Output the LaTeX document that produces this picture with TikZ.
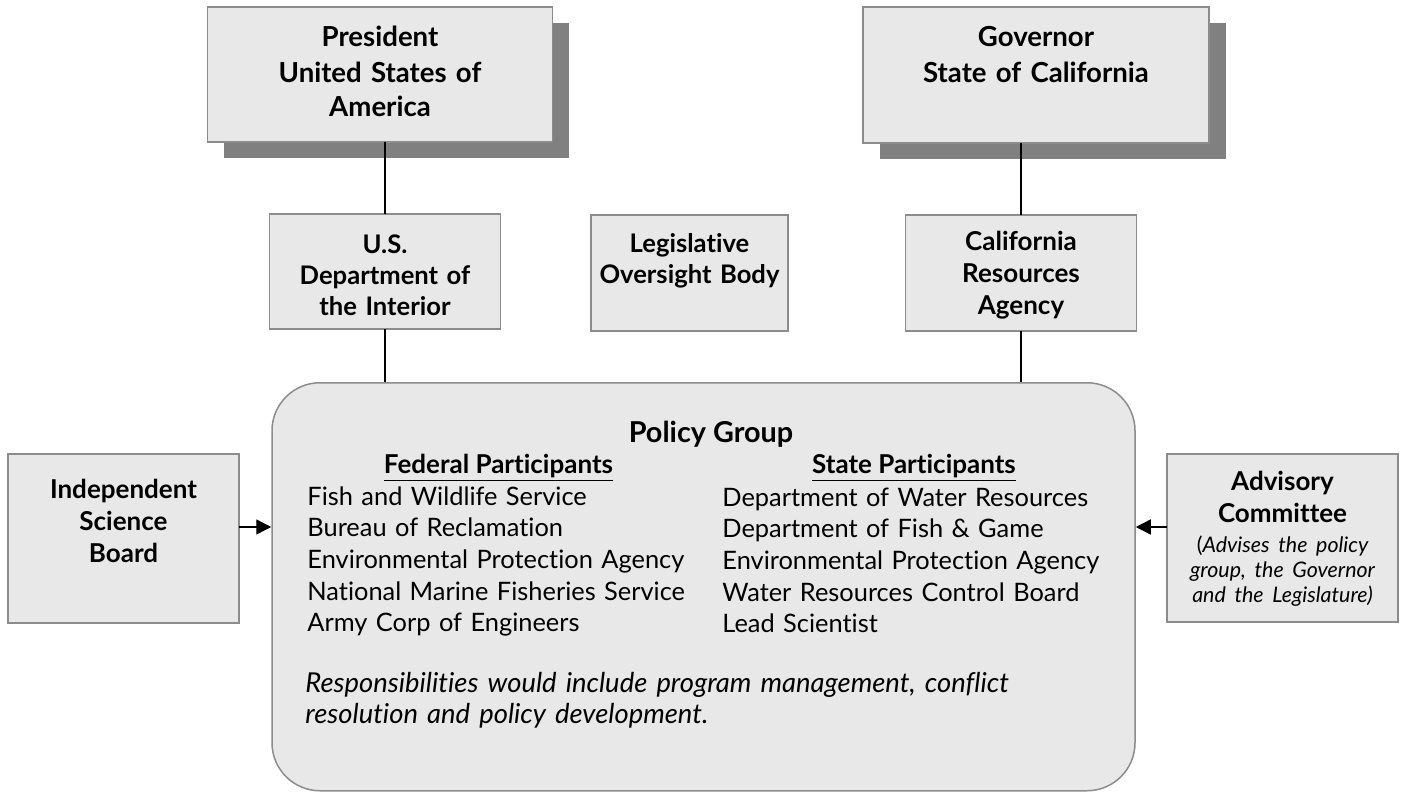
\documentclass[tikz,border=0pt]{standalone}
\usepackage{fontspec}
\setmainfont{Lato}[Ligatures=NoCommon]
\usepackage{xcolor}
\usepackage{tikz}
\usetikzlibrary{arrows.meta,shadows}
\definecolor{boxfill}{gray}{0.91}
\definecolor{boxline}{gray}{0.55}
\definecolor{shadowgray}{gray}{0.5}
\tikzset{
  orgbox/.style={draw=boxline,fill=boxfill,line width=0.75pt,inner sep=0pt,outer sep=0pt,
    align=center,anchor=north,font=\fontsize{13}{16}\selectfont\bfseries},
  headbox/.style={orgbox,drop shadow={shadow xshift=8.25pt,shadow yshift=-8.25pt,fill=shadowgray,opacity=1},
    font=\fontsize{13.8}{17.5}\selectfont\bfseries},
  link/.style={line width=0.7pt},
  feed/.style={line width=0.7pt,-{Triangle[length=7.5pt,width=7.5pt]}},
  body/.style={inner sep=0pt,align=left,font=\fontsize{12.7}{15.85}\selectfont},
  colhead/.style={inner sep=0pt,anchor=base,font=\fontsize{13}{16}\selectfont\bfseries}
}

\begin{document}
\begin{tikzpicture}[x=0.5pt,y=-0.5pt]
        \useasboundingbox (0,0) rectangle (1403,792);
        \node[headbox,text width=172.5pt,text height=20pt,text depth=47.5pt] (pres) at (380,7)
          {President\\United States of\\America};
        \node[headbox,text width=173pt,text height=20pt,text depth=48pt] (gov) at (1036,7)
          {Governor\\State of California};
        \node[orgbox,text width=115.5pt,text height=19.5pt,text depth=38pt,font=\fontsize{12.8}{15.5}\selectfont\bfseries] (usdoi) at (385,214)
          {U.S.\\Department of\\the Interior};
        \node[orgbox,text width=98.5pt,text height=18.5pt,text depth=39.5pt,font=\fontsize{12.8}{15.5}\selectfont\bfseries] (leg) at (689.5,215)
          {Legislative\\Oversight Body};
        \node[orgbox,text width=115.5pt,text height=17.5pt,text depth=40.5pt] (cra) at (1021,215)
          {California\\Resources\\Agency};
        \node[orgbox,text width=115.5pt,text height=22pt,text depth=62.5pt] (isb) at (123.5,454)
          {Independent\\Science\\Board};
        \node[orgbox,text width=115.5pt,text height=18pt,text depth=66pt] (adv) at (1282.5,454)
          {Advisory\\Committee\par\vspace{2.5pt}
           {\fontsize{10.7}{12.5}\selectfont\mdseries (\textit{Advises the policy\\group, the Governor\\and the Legislature)}\par}};
        \node[draw=boxline,fill=boxfill,line width=0.75pt,rounded corners=24pt,inner sep=0pt,
          minimum width=431.5pt,minimum height=204pt,anchor=north] (policy) at (703.5,382) {};
        \node[colhead,font=\fontsize{14.4}{16}\selectfont\bfseries] (pgtitle) at (711,442) {Policy Group};
        \node[colhead] (fedhead) at (498.5,473) {\underline{Federal Participants}};
        \node[colhead] (statehead) at (914,473) {\underline{State Participants}};
        \node[body,anchor=base west,text width=220pt] (fedlist) at (307,505) {
          Fish and Wildlife Service\\
          Bureau of Reclamation\\
          Environmental Protection Agency\\
          National Marine Fisheries Service\\
          Army Corp of Engineers};
        \node[body,anchor=base west,text width=200pt] (statelist) at (722,506) {
          Department of Water Resources\\
          Department of Fish \& Game\\
          Environmental Protection Agency\\
          Water Resources Control Board\\
          Lead Scientist};
        \node[body,anchor=base west,text width=420pt,font=\fontsize{13.7}{15.5}\selectfont\itshape] (note) at (305,692)
          {Responsibilities would include program management, conflict\\resolution and policy development.};
        \draw[link] (usdoi.north) -- (usdoi.north |- pres.south);
        \draw[link] (usdoi.south) -- (usdoi.south |- policy.north);
        \draw[link] (cra.north) -- (cra.north |- gov.south);
        \draw[link] (cra.south) -- (cra.south |- policy.north);
        \draw[feed] ([yshift=5.75pt]isb.east) -- ([yshift=5.75pt]isb.east -| policy.west);
        \draw[feed] ([yshift=5.5pt]adv.west) -- ([yshift=5.5pt]adv.west -| policy.east);
\end{tikzpicture}
\end{document}
